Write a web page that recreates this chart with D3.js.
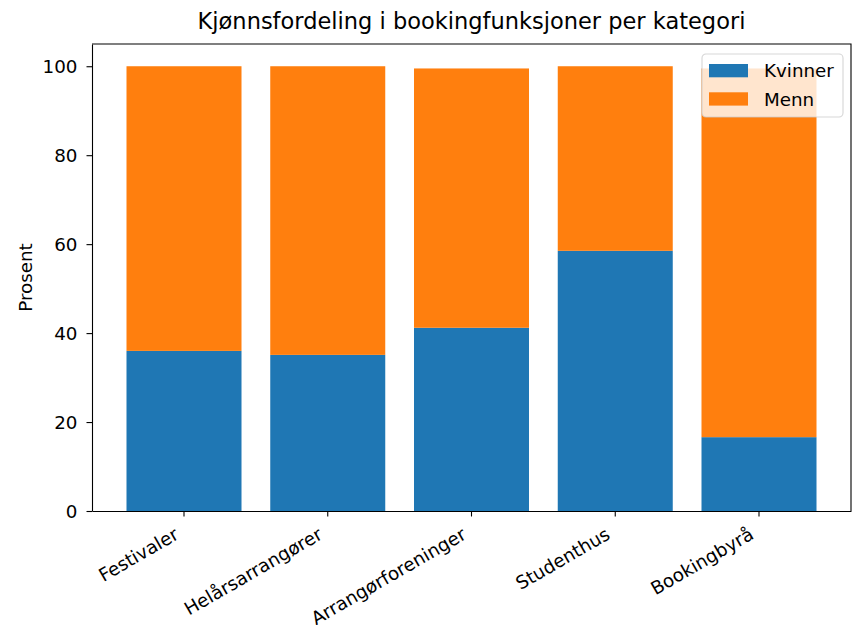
<!DOCTYPE html>
<html>
<head>
<meta charset="utf-8">
<script src="https://cdn.jsdelivr.net/npm/d3@7"></script>
<style>
  body { margin: 0; background: #fff; }
  svg { display: block; font-family: "DejaVu Sans", sans-serif; }
</style>
</head>
<body>
<div id="chart"></div>
<script>
// Data
const categories = ["Festivaler", "Helårsarrangører", "Arrangørforeninger", "Studenthus", "Bookingbyrå"];
const kvinner = [36.0, 35.1, 41.2, 58.5, 16.6];
const menn = [64.0, 64.9, 58.3, 41.5, 82.9];
const seriesKeys = ["Kvinner", "Menn"];
const seriesColors = ["#1f77b4", "#ff7f0e"];
const yTicks = [0, 20, 40, 60, 80, 100];

class StackedBarChart {
  constructor(_config, _data) {
    this.config = {
      parentElement: _config.parentElement,
      containerWidth: _config.containerWidth || 852,
      containerHeight: _config.containerHeight || 625,
      margin: _config.margin || { top: 44, right: 1, bottom: 114, left: 92 },
      chartTitle: _config.chartTitle || "",
      yAxisTitle: _config.yAxisTitle || "",
      fontSize: 18.3,
      tickSize: 5.5,
    };
    this.data = _data;
    this.initVis();
  }

  initVis() {
    let vis = this;
    vis.width = vis.config.containerWidth - vis.config.margin.left - vis.config.margin.right;
    vis.height = vis.config.containerHeight - vis.config.margin.top - vis.config.margin.bottom;

    vis.svg = d3
      .select(vis.config.parentElement)
      .append("svg")
      .attr("width", vis.config.containerWidth)
      .attr("height", vis.config.containerHeight);

    vis.chartGroup = vis.svg
      .append("g")
      .attr("transform", `translate(${vis.config.margin.left}, ${vis.config.margin.top})`);

    // Title centred over the axes
    vis.svg
      .append("text")
      .attr("x", vis.config.margin.left + vis.width / 2)
      .attr("y", 29)
      .attr("text-anchor", "middle")
      .style("font-size", "22.5px")
      .style("fill", "#000")
      .text(vis.config.chartTitle);

    vis.renderVis();
  }

  renderVis() {
    let vis = this;
    const fs = vis.config.fontSize;

    const x = d3
      .scaleBand()
      .domain(categories)
      .range([0, vis.width])
      .paddingInner(0.2)
      .paddingOuter(0.24);

    // matplotlib adds 5% headroom above the tallest stack
    const y = d3.scaleLinear().domain([0, 105]).range([vis.height, 0]);

    const stack = d3.stack().keys(seriesKeys)(vis.data);
    const color = d3.scaleOrdinal().domain(seriesKeys).range(seriesColors);

    vis.chartGroup
      .selectAll(".layer")
      .data(stack)
      .enter()
      .append("g")
      .attr("class", "layer")
      .attr("fill", (d) => color(d.key))
      .selectAll("rect")
      .data((d) => d)
      .enter()
      .append("rect")
      .attr("x", (d) => x(d.data.category))
      .attr("width", x.bandwidth())
      .attr("y", (d) => y(d[1]))
      .attr("height", (d) => y(d[0]) - y(d[1]));

    // Axes
    const xAxis = d3
      .axisBottom(x)
      .tickSize(vis.config.tickSize)
      .tickSizeOuter(0)
      .tickPadding(0);
    const yAxis = d3
      .axisLeft(y)
      .tickValues(yTicks)
      .tickSize(vis.config.tickSize)
      .tickSizeOuter(0)
      .tickPadding(9);

    const gx = vis.chartGroup
      .append("g")
      .attr("class", "x-axis")
      .attr("transform", `translate(0, ${vis.height})`)
      .call(xAxis);

    gx.selectAll(".tick text")
      .attr("y", null)
      .attr("dy", null)
      .attr("text-anchor", "end")
      .attr("transform", `translate(-4, ${vis.config.tickSize + 21.5}) rotate(-30)`)
      .style("font-size", fs + "px")
      .style("fill", "#000");

    const gy = vis.chartGroup.append("g").attr("class", "y-axis").call(yAxis);
    gy.selectAll(".tick text")
      .attr("dy", "0.36em")
      .style("font-size", fs + "px")
      .style("fill", "#000");

    // d3 axes set their own font-family, put DejaVu back
    vis.chartGroup.selectAll(".x-axis, .y-axis").attr("font-family", "DejaVu Sans");
    vis.chartGroup.selectAll(".domain, .tick line").attr("stroke", "#000").attr("stroke-width", 1.1);

    // Top and right spines
    vis.chartGroup
      .append("path")
      .attr("d", `M0,0H${vis.width}V${vis.height}`)
      .attr("fill", "none")
      .attr("stroke", "#000")
      .attr("stroke-width", 1.1);

    // Y axis title
    vis.svg
      .append("text")
      .attr("text-anchor", "middle")
      .attr("transform", `translate(32, ${vis.config.margin.top + vis.height / 2}) rotate(-90)`)
      .style("font-size", fs + "px")
      .style("fill", "#000")
      .text(vis.config.yAxisTitle);

    vis.addLegend(color);
  }

  addLegend(colorScale) {
    let vis = this;
    const fs = vis.config.fontSize;

    const legend = vis.svg.append("g").attr("class", "legend").attr("transform", "translate(702, 54)");

    legend
      .append("rect")
      .attr("width", 141)
      .attr("height", 63)
      .attr("rx", 4)
      .attr("fill", "#fff")
      .attr("fill-opacity", 0.8)
      .attr("stroke", "#ccc")
      .attr("stroke-opacity", 0.8)
      .attr("stroke-width", 1.1);

    const items = legend
      .selectAll(".legend-item")
      .data(seriesKeys)
      .enter()
      .append("g")
      .attr("class", "legend-item")
      .attr("transform", (d, i) => `translate(7, ${10 + i * 28.3})`);

    items
      .append("rect")
      .attr("width", 39)
      .attr("height", 13.3)
      .attr("fill", (d) => colorScale(d));

    items
      .append("text")
      .attr("x", 55)
      .attr("y", 13.3)
      .style("font-size", fs + "px")
      .style("fill", "#000")
      .text((d) => d);
  }
}

const tableData = categories.map((c, i) => ({ category: c, Kvinner: kvinner[i], Menn: menn[i] }));

new StackedBarChart(
  {
    parentElement: "#chart",
    chartTitle: "Kjønnsfordeling i bookingfunksjoner per kategori",
    yAxisTitle: "Prosent",
  },
  tableData
);
</script>
</body>
</html>
